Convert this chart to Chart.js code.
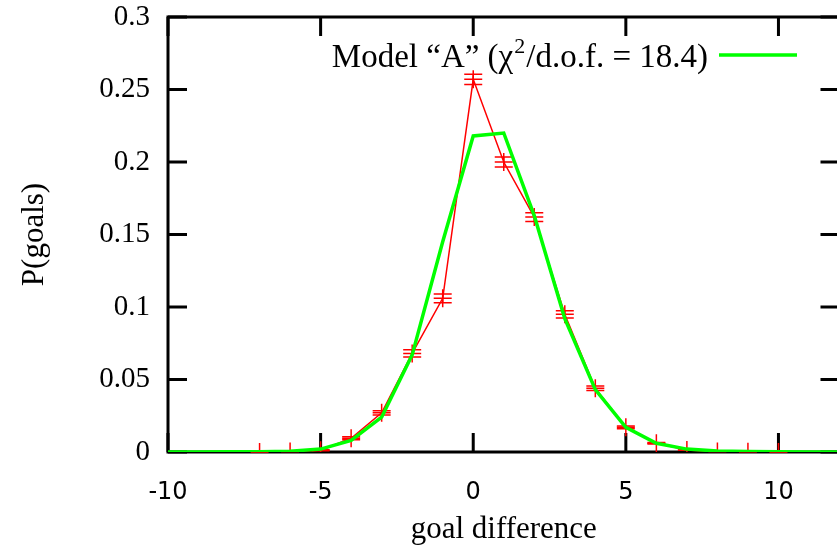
<!DOCTYPE html>
<html>
<head>
<meta charset="utf-8">
<script src="https://cdn.jsdelivr.net/npm/chart.js@4.4.1/dist/chart.umd.min.js"></script>
<style>
  html, body { margin: 0; padding: 0; background: #fff; overflow: hidden; }
  #wrap { position: absolute; left: 0; top: 0; width: 850px; height: 551px; }
</style>
</head>
<body>
<div id="wrap"><canvas id="chart" width="850" height="551"></canvas></div>
<script>
// observed goal difference distribution (red, with error bars)
const goalDiff = [-7, -6, -5, -4, -3, -2, -1, 0, 1, 2, 3, 4, 5, 6, 7, 8, 9, 10];
const observed = [0, 0.0003, 0.0012, 0.0095, 0.027, 0.068, 0.106, 0.257, 0.2, 0.162, 0.095, 0.044, 0.017, 0.006, 0.0013, 0.0003, 0.0001, 0];
const observedErr = [0, 0, 0.0003, 0.001, 0.0015, 0.0025, 0.003, 0.0035, 0.0035, 0.003, 0.0025, 0.0015, 0.001, 0.0005, 0, 0, 0, 0];

// model "A" prediction (green)
const modelX = [-10, -9, -8, -7, -6, -5, -4, -3, -2, -1, 0, 1, 2, 3, 4, 5, 6, 7, 8, 9, 10, 11, 12];
const modelY = [0, 0, 0.0001, 0.0002, 0.0006, 0.002, 0.008, 0.024, 0.067, 0.145, 0.218, 0.22, 0.163, 0.092, 0.043, 0.017, 0.006, 0.002, 0.0007, 0.0003, 0.0001, 0, 0];

const xTicks = [-10, -5, 0, 5, 10];
const yTicks = [0, 0.05, 0.1, 0.15, 0.2, 0.25, 0.3];

const legendText = ['Model \u201cA\u201d (\u03c7', '2', '/d.o.f. = 18.4)'];

const serif = '"Liberation Serif", "DejaVu Serif", serif';
const sans = '"DejaVu Sans", sans-serif';

// black frame with inward ticks on all four sides
const framePlugin = {
    id: 'frame',
    beforeDatasetsDraw(chart) {
        const { ctx, chartArea: a, scales: { x, y } } = chart;
        const len = 19;
        ctx.save();
        ctx.strokeStyle = '#000';
        ctx.lineWidth = 3;
        ctx.strokeRect(a.left, a.top, a.right - a.left, a.bottom - a.top);
        ctx.beginPath();
        xTicks.forEach(v => {
            const px = x.getPixelForValue(v);
            ctx.moveTo(px, a.bottom); ctx.lineTo(px, a.bottom - len);
            ctx.moveTo(px, a.top); ctx.lineTo(px, a.top + len);
        });
        yTicks.forEach(v => {
            const py = y.getPixelForValue(v);
            ctx.moveTo(a.left, py); ctx.lineTo(a.left + len, py);
            ctx.moveTo(a.right, py); ctx.lineTo(a.right - len, py);
        });
        ctx.stroke();
        ctx.restore();
    }
};

// error bar caps for the observed data
const errorBarPlugin = {
    id: 'errorBars',
    afterDatasetDraw(chart, args) {
        if (args.index !== 0) return;
        const { ctx, scales: { x, y } } = chart;
        ctx.save();
        ctx.strokeStyle = '#ff0000';
        ctx.lineWidth = 1.5;
        ctx.beginPath();
        goalDiff.forEach((g, i) => {
            const px = x.getPixelForValue(g);
            const top = y.getPixelForValue(observed[i] + observedErr[i]);
            const bot = y.getPixelForValue(observed[i] - observedErr[i]);
            ctx.moveTo(px, top); ctx.lineTo(px, bot);
            ctx.moveTo(px - 9, top); ctx.lineTo(px + 9, top);
            ctx.moveTo(px - 9, bot); ctx.lineTo(px + 9, bot);
        });
        ctx.stroke();
        ctx.restore();
    }
};

// gnuplot-style key at top right
const keyPlugin = {
    id: 'key',
    afterDraw(chart) {
        const { ctx } = chart;
        const right = 714, base = 67;
        ctx.save();
        ctx.fillStyle = '#000';
        ctx.textBaseline = 'alphabetic';
        const big = '33px ' + serif, small = '22px ' + serif;
        ctx.font = big;
        const w0 = ctx.measureText(legendText[0]).width;
        const w2 = ctx.measureText(legendText[2]).width;
        ctx.font = small;
        const w1 = ctx.measureText(legendText[1]).width + 2;
        let px = right - (w0 + w1 + w2) - 6;
        ctx.font = big;
        ctx.fillText(legendText[0], px, base);
        px += w0;
        ctx.font = small;
        ctx.fillText(legendText[1], px + 1, base - 14);
        px += w1;
        ctx.font = big;
        ctx.fillText(legendText[2], px, base);
        ctx.strokeStyle = '#00ff00';
        ctx.lineWidth = 3.5;
        ctx.beginPath();
        ctx.moveTo(719, 55);
        ctx.lineTo(797, 55);
        ctx.stroke();
        ctx.restore();
    }
};

new Chart(document.getElementById('chart'), {
    type: 'line',
    data: {
        datasets: [
            {
                label: 'data',
                data: goalDiff.map((g, i) => ({ x: g, y: observed[i] })),
                borderColor: '#ff0000',
                borderWidth: 1.5,
                pointStyle: 'cross',
                pointRadius: 9,
                pointBorderWidth: 1.5,
                pointBorderColor: '#ff0000',
                fill: false,
                tension: 0,
                order: 1
            },
            {
                label: 'Model "A"',
                data: modelX.map((g, i) => ({ x: g, y: modelY[i] })),
                borderColor: '#00ff00',
                borderWidth: 3.5,
                pointRadius: 0,
                fill: false,
                tension: 0,
                order: 0
            }
        ]
    },
    options: {
        responsive: false,
        animation: false,
        devicePixelRatio: 1,
        layout: { padding: { left: 0, top: 17, right: 10, bottom: 0 } },
        plugins: {
            legend: { display: false },
            tooltip: { enabled: false }
        },
        scales: {
            x: {
                type: 'linear',
                min: -10,
                max: 12,
                afterFit: s => { s.height = 99; s.paddingLeft = 0; s.paddingRight = 0; },
                grid: { display: false, drawTicks: false },
                border: { display: false },
                ticks: {
                    stepSize: 5,
                    includeBounds: false,
                    padding: 26,
                    color: '#000',
                    font: { family: sans, size: 24 },
                    maxRotation: 0
                },
                title: {
                    display: true,
                    text: 'goal difference',
                    color: '#000',
                    font: { family: serif, size: 31 },
                    padding: { top: 0, bottom: 3 }
                }
            },
            y: {
                min: 0,
                max: 0.3,
                afterFit: s => { s.width = 168; s.paddingTop = 0; s.paddingBottom = 0; },
                grid: { display: false, drawTicks: false },
                border: { display: false },
                ticks: {
                    stepSize: 0.05,
                    padding: 18,
                    color: '#000',
                    font: { family: serif, size: 29 },
                    callback: v => String(+v.toFixed(2))
                },
                title: {
                    display: true,
                    text: 'P(goals)',
                    color: '#000',
                    font: { family: serif, size: 31 },
                    padding: { top: 16, bottom: 0 }
                }
            }
        }
    },
    plugins: [framePlugin, errorBarPlugin, keyPlugin]
});
</script>
</body>
</html>
